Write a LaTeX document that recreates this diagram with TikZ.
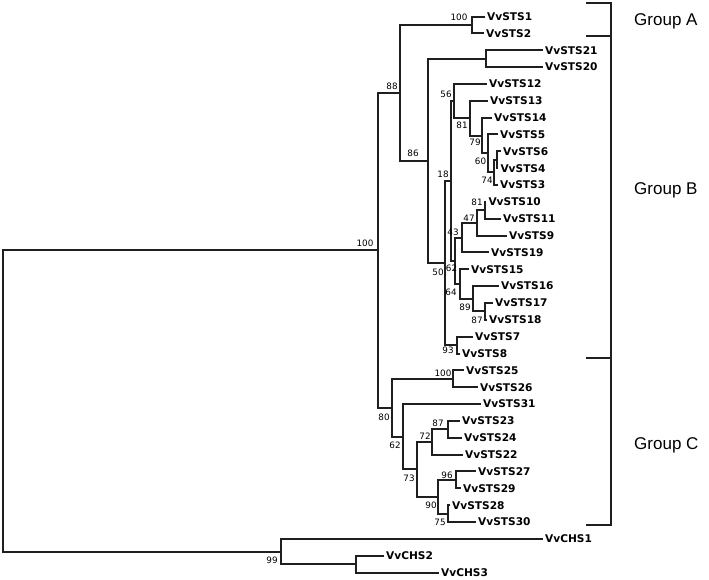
\documentclass[tikz,border=0pt]{standalone}
\usepackage{fontspec}
\setmainfont{Liberation Sans}
\newfontfamily\leaffont{DejaVu Sans}
\begin{document}
\begin{tikzpicture}[x=1pt,y=-1pt,
  br/.style={line width=2pt,black!88},
  leaf/.style={anchor=west,inner xsep=2.5pt,inner ysep=0pt,font=\leaffont\bfseries\fontsize{10.6}{12}\selectfont},
  bs/.style={inner sep=0pt,font=\leaffont\fontsize{8.8}{10}\selectfont},
  grp/.style={anchor=base west,inner sep=0pt,font=\fontsize{17}{20}\selectfont}]
\useasboundingbox (0,0) rectangle (709,579);
% internal nodes
\coordinate (root) at (3,400.9);
\coordinate (ing) at (378,250.3);
\coordinate (n88) at (400,92.87);
\coordinate (n12) at (472,24.93);
\coordinate (n86) at (428,160.81);
\coordinate (n2120) at (486,58.63);
\coordinate (n50) at (445,263.0);
\coordinate (n18) at (451,180.92);
\coordinate (n56) at (454,101.01);
\coordinate (n81a) at (470,118.13);
\coordinate (n79) at (482,135.5);
\coordinate (n60) at (488,153.41);
\coordinate (n74) at (494,172.36);
\coordinate (n64x) at (497,159.73);
\coordinate (n62b) at (455,260.83);
\coordinate (n43) at (462,237.66);
\coordinate (n47) at (477,222.91);
\coordinate (n81b) at (485,210.28);
\coordinate (n64) at (460,283.99);
\coordinate (n89) at (473,298.74);
\coordinate (n87) at (485,311.38);
\coordinate (n93) at (457,345.08);
\coordinate (n80) at (392,407.74);
\coordinate (n100c) at (453,378.78);
\coordinate (n62c) at (403,436.7);
\coordinate (n73) at (417,469.34);
\coordinate (n72) at (432,441.96);
\coordinate (n87c) at (448,429.33);
\coordinate (n90) at (438,496.73);
\coordinate (n96) at (456,479.88);
\coordinate (n75) at (448,513.58);
\coordinate (n99) at (281,551.49);
\coordinate (nc23) at (356,564.13);
% leaves
\node[leaf] (s1) at (484.5,16.5) {VvSTS1};
\node[leaf] (s2) at (483.5,33.35) {VvSTS2};
\node[leaf] (s21) at (542.5,50.2) {VvSTS21};
\node[leaf] (s20) at (542.5,67.05) {VvSTS20};
\node[leaf] (s12) at (486.5,83.9) {VvSTS12};
\node[leaf] (s13) at (487.5,100.75) {VvSTS13};
\node[leaf] (s14) at (491.5,117.6) {VvSTS14};
\node[leaf] (s5) at (497.5,134.45) {VvSTS5};
\node[leaf] (s6) at (500.5,151.3) {VvSTS6};
\node[leaf] (s4) at (497.8,168.15) {VvSTS4};
\node[leaf] (s3) at (497.5,185.0) {VvSTS3};
\node[leaf] (s10) at (485.8,201.85) {VvSTS10};
\node[leaf] (s11) at (500.5,218.7) {VvSTS11};
\node[leaf] (s9) at (506.5,235.55) {VvSTS9};
\node[leaf] (s19) at (488.5,252.4) {VvSTS19};
\node[leaf] (s15) at (468.5,269.25) {VvSTS15};
\node[leaf] (s16) at (498.5,286.1) {VvSTS16};
\node[leaf] (s17) at (492.5,302.95) {VvSTS17};
\node[leaf] (s18) at (486.5,319.8) {VvSTS18};
\node[leaf] (s7) at (472.5,336.65) {VvSTS7};
\node[leaf] (s8) at (459.5,353.5) {VvSTS8};
\node[leaf] (s25) at (463.5,370.35) {VvSTS25};
\node[leaf] (s26) at (477.5,387.2) {VvSTS26};
\node[leaf] (s31) at (480.5,404.05) {VvSTS31};
\node[leaf] (s23) at (459.5,420.9) {VvSTS23};
\node[leaf] (s24) at (461.5,437.75) {VvSTS24};
\node[leaf] (s22) at (462.5,454.6) {VvSTS22};
\node[leaf] (s27) at (475.5,471.45) {VvSTS27};
\node[leaf] (s29) at (460.5,488.3) {VvSTS29};
\node[leaf] (s28) at (449.5,505.15) {VvSTS28};
\node[leaf] (s30) at (475.5,522.0) {VvSTS30};
\node[leaf] (c1) at (542.5,538.85) {VvCHS1};
\node[leaf] (c2) at (383.5,555.7) {VvCHS2};
\node[leaf] (c3) at (438.5,572.55) {VvCHS3};
% branches
\draw[br] (root) |- (ing);
\draw[br] (root) |- (n99);
\draw[br] (ing) |- (n88);
\draw[br] (ing) |- (n80);
\draw[br] (n88) |- (n12);
\draw[br] (n88) |- (n86);
\draw[br] (n12) |- (s1.west);
\draw[br] (n12) |- (s2.west);
\draw[br] (n86) |- (n2120);
\draw[br] (n86) |- (n50);
\draw[br] (n2120) |- (s21.west);
\draw[br] (n2120) |- (s20.west);
\draw[br] (n50) |- (n18);
\draw[br] (n50) |- (n93);
\draw[br] (n18) |- (n56);
\draw[br] (n18) |- (n62b);
\draw[br] (n56) |- (s12.west);
\draw[br] (n56) |- (n81a);
\draw[br] (n81a) |- (s13.west);
\draw[br] (n81a) |- (n79);
\draw[br] (n79) |- (s14.west);
\draw[br] (n79) |- (n60);
\draw[br] (n60) |- (s5.west);
\draw[br] (n60) |- (n74);
\draw[br] (n74) |- (n64x);
\draw[br] (n74) |- (s3.west);
\draw[br] (n64x) |- (s6.west);
\draw[br] (n64x) |- (s4.west);
\draw[br] (n62b) |- (n43);
\draw[br] (n62b) |- (n64);
\draw[br] (n43) |- (n47);
\draw[br] (n43) |- (s19.west);
\draw[br] (n47) |- (n81b);
\draw[br] (n47) |- (s9.west);
\draw[br] (n81b) |- (s10.west);
\draw[br] (n81b) |- (s11.west);
\draw[br] (n64) |- (s15.west);
\draw[br] (n64) |- (n89);
\draw[br] (n89) |- (s16.west);
\draw[br] (n89) |- (n87);
\draw[br] (n87) |- (s17.west);
\draw[br] (n87) |- (s18.west);
\draw[br] (n93) |- (s7.west);
\draw[br] (n93) |- (s8.west);
\draw[br] (n80) |- (n100c);
\draw[br] (n80) |- (n62c);
\draw[br] (n100c) |- (s25.west);
\draw[br] (n100c) |- (s26.west);
\draw[br] (n62c) |- (s31.west);
\draw[br] (n62c) |- (n73);
\draw[br] (n73) |- (n72);
\draw[br] (n73) |- (n90);
\draw[br] (n72) |- (n87c);
\draw[br] (n72) |- (s22.west);
\draw[br] (n87c) |- (s23.west);
\draw[br] (n87c) |- (s24.west);
\draw[br] (n90) |- (n96);
\draw[br] (n90) |- (n75);
\draw[br] (n96) |- (s27.west);
\draw[br] (n96) |- (s29.west);
\draw[br] (n75) |- (s28.west);
\draw[br] (n75) |- (s30.west);
\draw[br] (n99) |- (c1.west);
\draw[br] (n99) |- (nc23);
\draw[br] (nc23) |- (c2.west);
\draw[br] (nc23) |- (c3.west);
% bootstrap values
\node[bs] (b1) at (459,17) {100};
\node[bs] (b2) at (392,86) {88};
\node[bs] (b3) at (413,153) {86};
\node[bs] (b4) at (446,94.5) {56};
\node[bs] (b5) at (462,125.5) {81};
\node[bs] (b6) at (475,142) {79};
\node[bs] (b7) at (480.5,161.5) {60};
\node[bs] (b8) at (487,180.5) {74};
\node[bs] (b9) at (443,174) {18};
\node[bs] (b10) at (477,202) {81};
\node[bs] (b11) at (469,218) {47};
\node[bs] (b12) at (453,232) {43};
\node[bs] (b13) at (451.5,268) {62};
\node[bs] (b14) at (438,272) {50};
\node[bs] (b15) at (451,292) {64};
\node[bs] (b16) at (465,307) {89};
\node[bs] (b17) at (477,320) {87};
\node[bs] (b18) at (448,350) {93};
\node[bs] (b19) at (365,243) {100};
\node[bs] (b20) at (443,373) {100};
\node[bs] (b21) at (384,417) {80};
\node[bs] (b22) at (395,445) {62};
\node[bs] (b23) at (438,423) {87};
\node[bs] (b24) at (425,436) {72};
\node[bs] (b25) at (409,478) {73};
\node[bs] (b26) at (447,475) {96};
\node[bs] (b27) at (431,505) {90};
\node[bs] (b28) at (440,522) {75};
\node[bs] (b29) at (272,560) {99};
% group brackets
\coordinate (ka) at (586,3);
\coordinate (kb) at (611,3);
\coordinate (kc) at (586,36);
\coordinate (kd) at (611,36);
\coordinate (ke) at (586,358);
\coordinate (kf) at (611,358);
\coordinate (kg) at (586,525);
\coordinate (kh) at (611,525);
\draw[br] (ka) -- (kb) -- (kh) -- (kg);
\draw[br] (kc) -- (kd);
\draw[br] (ke) -- (kf);
\node[grp] (ga) at (634,25) {Group A};
\node[grp] (gb) at (634,194) {Group B};
\node[grp] (gc) at (634,449) {Group C};
\end{tikzpicture}
\end{document}
